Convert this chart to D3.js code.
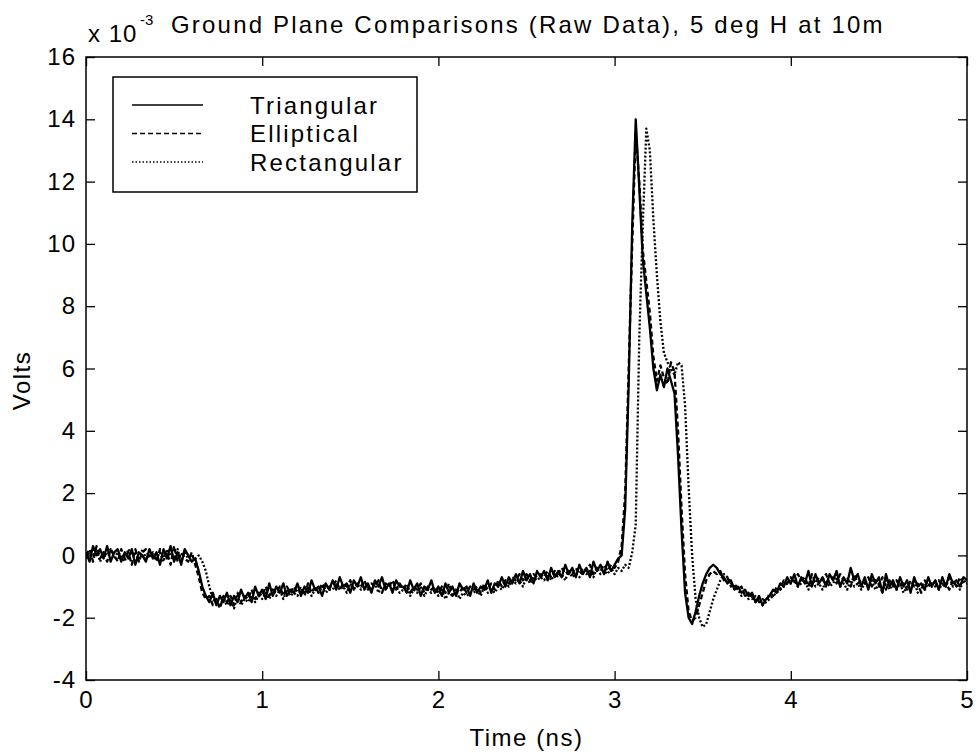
<!DOCTYPE html>
<html>
<head>
<meta charset="utf-8">
<script src="https://cdn.jsdelivr.net/npm/d3@7"></script>
<style>
  body { margin: 0; background: #fff; }
  text { font-family: "Liberation Sans", Arial, Helvetica, sans-serif; fill: #000; }
</style>
</head>
<body>
<script>
// values in units of 1e-3 V, sampled every 0.02 ns from 0 to 5 ns
const sampleStep = 0.02;

const triangular = [
  0.1, -0.2, 0.3, 0.0, 0.2, -0.1, 0.3, -0.2, 0.1, 0.2,
  -0.2, 0.1, -0.1, 0.2, -0.3, 0.1, 0.0, -0.2, 0.2, -0.1,
  0.1, -0.3, 0.2, -0.1, 0.3, -0.2, 0.1, -0.3, 0.2, 0.0,
  -0.2, -0.1, -0.5, -1.0, -1.3, -1.5, -1.2, -1.6, -1.3, -1.5,
  -1.2, -1.6, -1.3, -1.5, -1.1, -1.4, -1.2, -1.5, -1.0, -1.3,
  -1.1, -1.4, -0.9, -1.3, -1.0, -1.2, -0.9, -1.3, -1.1, -1.2,
  -0.9, -1.3, -1.0, -1.2, -0.8, -1.1, -1.0, -1.3, -0.9, -1.1,
  -0.8, -1.1, -0.7, -1.0, -0.9, -1.2, -0.8, -1.0, -0.7, -1.1,
  -0.9, -1.2, -0.8, -1.0, -0.7, -1.1, -0.9, -1.2, -0.8, -1.0,
  -1.0, -1.2, -0.8, -1.1, -0.9, -1.3, -1.0, -1.1, -0.8, -1.2,
  -1.0, -1.3, -0.9, -1.2, -1.0, -1.3, -0.9, -1.1, -1.0, -1.3,
  -0.9, -1.2, -1.0, -1.1, -0.8, -1.2, -0.9, -1.0, -0.7, -1.0,
  -0.7, -0.9, -0.6, -0.9, -0.5, -0.8, -0.6, -0.9, -0.5, -0.7,
  -0.5, -0.8, -0.4, -0.7, -0.5, -0.7, -0.3, -0.6, -0.4, -0.7,
  -0.3, -0.6, -0.4, -0.7, -0.2, -0.5, -0.3, -0.6, -0.2, -0.5,
  -0.3, -0.1, 0.0, 1.5, 5.5, 10.6, 14.0, 11.8, 9.5, 8.4,
  7.3, 6.0, 5.3, 5.8, 5.4, 6.0, 5.6, 5.2, 3.2, 0.8,
  -1.2, -2.0, -2.2, -1.8, -1.3, -0.9, -0.6, -0.4, -0.3, -0.4,
  -0.6, -0.7, -0.9, -0.8, -1.1, -1.0, -1.2, -1.1, -1.3, -1.2,
  -1.5, -1.3, -1.6, -1.4, -1.3, -1.1, -1.2, -0.9, -1.0, -0.7,
  -0.9, -0.6, -1.0, -0.7, -0.9, -0.5, -1.0, -0.6, -0.9, -0.7,
  -1.0, -0.6, -0.8, -0.5, -1.0, -0.7, -0.9, -0.4, -0.8, -0.6,
  -1.0, -0.7, -1.1, -0.6, -0.9, -0.7, -1.2, -0.6, -1.0, -0.8,
  -1.1, -0.7, -1.0, -0.8, -1.2, -0.7, -1.0, -0.9, -1.1, -0.7,
  -1.0, -0.8, -1.1, -0.7, -1.0, -0.6, -0.9, -0.8, -1.0, -0.7,
  -0.8
];

const elliptical = [
  0.0, 0.2, -0.2, 0.3, -0.1, 0.1, -0.2, 0.2, 0.0, -0.2,
  0.2, -0.1, 0.1, -0.3, 0.2, -0.2, 0.1, 0.2, -0.1, 0.1,
  -0.2, 0.2, -0.1, 0.1, -0.3, 0.3, -0.2, 0.1, -0.1, -0.2,
  0.1, -0.3, -0.7, -1.2, -1.4, -1.3, -1.6, -1.4, -1.7, -1.3,
  -1.5, -1.3, -1.6, -1.2, -1.5, -1.3, -1.4, -1.1, -1.4, -1.2,
  -1.3, -1.0, -1.3, -1.1, -1.2, -1.0, -1.3, -1.0, -1.2, -1.0,
  -1.2, -1.0, -1.3, -0.9, -1.2, -1.0, -1.2, -0.9, -1.1, -1.0,
  -1.0, -0.8, -1.1, -0.9, -1.0, -0.8, -1.1, -0.9, -1.0, -0.8,
  -1.1, -0.9, -1.0, -0.8, -1.2, -0.9, -1.0, -0.8, -1.1, -0.9,
  -1.1, -0.9, -1.2, -1.0, -1.1, -0.9, -1.2, -1.0, -1.1, -1.0,
  -1.2, -1.0, -1.2, -0.9, -1.3, -1.1, -1.2, -1.0, -1.2, -1.0,
  -1.1, -1.0, -1.2, -0.9, -1.1, -0.9, -1.1, -0.8, -1.0, -0.8,
  -0.9, -0.7, -0.8, -0.6, -0.8, -0.6, -0.8, -0.6, -0.7, -0.6,
  -0.7, -0.5, -0.7, -0.5, -0.6, -0.4, -0.6, -0.5, -0.6, -0.4,
  -0.6, -0.4, -0.5, -0.3, -0.6, -0.4, -0.5, -0.3, -0.5, -0.3,
  -0.4, -0.2, 0.3, 2.0, 6.0, 10.0, 13.6, 12.0, 9.8, 8.8,
  7.8, 6.4, 5.6, 6.1, 5.7, 5.5, 6.2, 5.9, 4.0, 1.5,
  -0.6, -1.8, -2.1, -2.0, -1.6, -1.2, -0.8, -0.6, -0.5, -0.6,
  -0.5, -0.8, -0.7, -1.0, -0.9, -1.1, -1.0, -1.3, -1.2, -1.4,
  -1.3, -1.5, -1.4, -1.5, -1.2, -1.3, -1.0, -1.1, -0.8, -0.9,
  -0.7, -0.9, -0.6, -0.8, -0.7, -1.0, -0.6, -0.9, -0.7, -0.8,
  -0.6, -0.9, -0.7, -0.9, -0.6, -0.8, -0.7, -1.0, -0.6, -0.9,
  -0.8, -0.9, -0.7, -1.0, -0.8, -1.0, -0.7, -1.1, -0.8, -1.0,
  -0.8, -1.0, -0.9, -1.1, -0.8, -1.0, -0.9, -1.2, -0.8, -1.0,
  -0.9, -1.0, -0.8, -1.0, -0.9, -1.1, -0.8, -1.0, -0.7, -0.9,
  -0.9
];

const rectangular = [
  -0.1, 0.1, 0.0, 0.2, -0.2, 0.1, 0.0, 0.2, -0.1, 0.1,
  0.0, -0.2, 0.2, 0.0, 0.1, -0.2, 0.2, -0.1, 0.0, 0.1,
  -0.1, 0.1, -0.2, 0.2, 0.0, -0.1, 0.2, -0.2, 0.1, -0.1,
  0.0, -0.1, 0.0, -0.2, -0.5, -1.0, -1.4, -1.5, -1.6, -1.4,
  -1.6, -1.4, -1.7, -1.3, -1.6, -1.4, -1.5, -1.3, -1.5, -1.3,
  -1.4, -1.2, -1.4, -1.1, -1.3, -1.1, -1.4, -1.1, -1.3, -1.2,
  -1.3, -1.1, -1.2, -1.0, -1.3, -1.1, -1.2, -1.0, -1.2, -1.1,
  -1.1, -0.9, -1.1, -1.0, -1.2, -0.9, -1.1, -0.9, -1.1, -1.0,
  -1.0, -1.1, -0.9, -1.2, -1.0, -1.1, -0.9, -1.1, -1.0, -1.2,
  -1.1, -1.0, -1.3, -1.1, -1.2, -1.0, -1.3, -1.1, -1.2, -1.1,
  -1.3, -1.1, -1.4, -1.2, -1.3, -1.1, -1.4, -1.2, -1.3, -1.2,
  -1.2, -1.1, -1.3, -1.0, -1.2, -1.1, -1.2, -1.0, -1.1, -0.9,
  -1.0, -0.8, -0.9, -0.8, -1.0, -0.7, -0.9, -0.7, -0.8, -0.7,
  -0.8, -0.6, -0.8, -0.6, -0.7, -0.6, -0.8, -0.5, -0.7, -0.6,
  -0.7, -0.5, -0.6, -0.5, -0.7, -0.4, -0.6, -0.5, -0.6, -0.4,
  -0.6, -0.4, -0.5, -0.3, -0.4, 0.1, 1.0, 7.0, 10.6, 13.7,
  13.0, 10.8, 9.0, 7.5, 6.5, 6.2, 6.0, 5.8, 6.2, 6.1,
  4.8, 2.2, 0.0, -1.4, -2.0, -2.3, -2.2, -1.8, -1.4, -1.1,
  -0.8, -0.6, -0.7, -0.9, -1.0, -1.1, -1.3, -1.2, -1.4, -1.3,
  -1.5, -1.4, -1.6, -1.5, -1.4, -1.3, -1.2, -1.1, -1.0, -0.9,
  -0.9, -0.8, -1.0, -0.9, -0.8, -1.1, -0.8, -1.0, -0.9, -1.1,
  -0.8, -1.0, -0.9, -0.7, -1.0, -0.9, -1.1, -0.8, -1.0, -0.9,
  -1.1, -0.9, -1.0, -0.8, -1.1, -0.9, -1.2, -0.8, -1.1, -0.9,
  -1.1, -0.9, -1.2, -1.0, -1.1, -0.8, -1.2, -1.0, -1.1, -0.9,
  -1.0, -0.8, -1.1, -0.9, -1.0, -0.7, -1.0, -0.9, -1.1, -0.8,
  -0.9
];

const seriesNames = ["Triangular", "Elliptical", "Rectangular"];
const seriesDash = [null, "5,3", "1.5,2"];
const xTicks = [0, 1, 2, 3, 4, 5];
const yTicks = [-4, -2, 0, 2, 4, 6, 8, 10, 12, 14, 16];

const margin = { top: 57, right: 11, bottom: 75, left: 86 },
  width = 978 - margin.left - margin.right,
  height = 755 - margin.top - margin.bottom;

const fontSize = 24;
const tickLen = 9;

const svg = d3
  .select("body")
  .append("svg")
  .attr("width", 978)
  .attr("height", 755);

const g = svg
  .append("g")
  .attr("transform", "translate(" + margin.left + "," + margin.top + ")");

const x = d3.scaleLinear().domain([0, 5]).range([0, width]);
const y = d3.scaleLinear().domain([-4, 16]).range([height, 0]);

g.append("clipPath")
  .attr("id", "plot-clip")
  .append("rect")
  .attr("width", width)
  .attr("height", height);

const line = d3
  .line()
  .x((d, i) => x(i * sampleStep))
  .y((d) => y(d));

const allSeries = [triangular, elliptical, rectangular];

g.append("g")
  .attr("clip-path", "url(#plot-clip)")
  .selectAll("path")
  .data(allSeries)
  .enter()
  .append("path")
  .attr("d", line)
  .attr("fill", "none")
  .attr("stroke", "#000")
  .attr("stroke-width", 2.3)
  .attr("stroke-linejoin", "round")
  .attr("stroke-dasharray", (d, i) => (i === 2 ? "2,2" : seriesDash[i]));

// axes, ticks pointing inward on all four sides
function styleAxis(sel) {
  sel.select(".domain").remove();
  sel.selectAll(".tick line").attr("stroke", "#000").attr("stroke-width", 1.3);
  sel
    .selectAll(".tick text")
    .attr("font-size", fontSize)
    .attr("letter-spacing", "1px")
    .attr("font-family", null);
}

const tickText = (d) => String(d);

g.append("g")
  .attr("transform", "translate(0," + height + ")")
  .call(d3.axisBottom(x).tickValues(xTicks).tickSize(-tickLen).tickPadding(11).tickFormat(tickText))
  .call(styleAxis);

g.append("g")
  .call(d3.axisTop(x).tickValues(xTicks).tickSize(-tickLen).tickFormat(""))
  .call(styleAxis);

g.append("g")
  .call(d3.axisLeft(y).tickValues(yTicks).tickSize(-tickLen).tickPadding(10).tickFormat(tickText))
  .call(styleAxis);

g.append("g")
  .attr("transform", "translate(" + width + ",0)")
  .call(d3.axisRight(y).tickValues(yTicks).tickSize(-tickLen).tickFormat(""))
  .call(styleAxis);

g.append("rect")
  .attr("width", width)
  .attr("height", height)
  .attr("fill", "none")
  .attr("stroke", "#000")
  .attr("stroke-width", 1.5);

// legend
const legend = g.append("g").attr("transform", "translate(27,20)");

legend
  .append("rect")
  .attr("width", 304)
  .attr("height", 115)
  .attr("fill", "#fff")
  .attr("stroke", "#000")
  .attr("stroke-width", 1.5);

const legendRow = legend
  .selectAll("g.row")
  .data(seriesNames)
  .enter()
  .append("g")
  .attr("class", "row")
  .attr("transform", (d, i) => "translate(0," + (28 + i * 28.5) + ")");

legendRow
  .append("line")
  .attr("x1", 19)
  .attr("x2", 90)
  .attr("stroke", "#000")
  .attr("stroke-width", 1.6)
  .attr("stroke-dasharray", (d, i) => seriesDash[i]);

legendRow
  .append("text")
  .attr("x", 137)
  .attr("dy", "0.36em")
  .attr("font-size", fontSize)
  .attr("letter-spacing", "2.2px")
  .text((d) => d);

// title and exponent
svg
  .append("text")
  .attr("x", 171)
  .attr("y", 33)
  .attr("font-size", fontSize)
  .attr("letter-spacing", "2.2px")
  .text("Ground Plane Comparisons (Raw Data), 5 deg H at 10m");

svg
  .append("text")
  .attr("x", 88)
  .attr("y", 42)
  .attr("font-size", fontSize)
  .attr("letter-spacing", "1px")
  .text("x 10");

svg
  .append("text")
  .attr("x", 140)
  .attr("y", 25)
  .attr("font-size", 15)
  .text("-3");

// axis labels
svg
  .append("text")
  .attr("x", margin.left + width / 2)
  .attr("y", 746)
  .attr("text-anchor", "middle")
  .attr("font-size", fontSize)
  .attr("letter-spacing", "1.5px")
  .text("Time (ns)");

svg
  .append("text")
  .attr("transform", "translate(30," + (margin.top + height / 2 + 12) + ") rotate(-90)")
  .attr("text-anchor", "middle")
  .attr("font-size", fontSize)
  .attr("letter-spacing", "1.5px")
  .text("Volts");
</script>
</body>
</html>
